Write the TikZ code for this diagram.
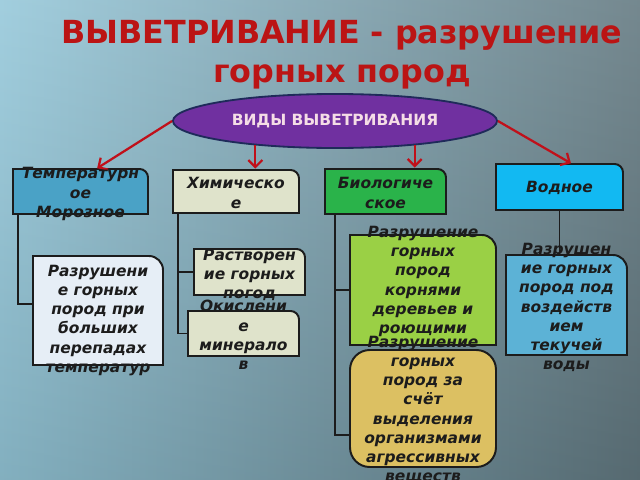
\documentclass[tikz,border=0pt]{standalone}
\usepackage{fontspec}
\setmainfont{DejaVu Sans}
\usetikzlibrary{arrows.meta,shapes.geometric,fit}

\definecolor{bgleft}{HTML}{95C8DA}
\definecolor{bgright}{HTML}{627880}
\definecolor{titlered}{HTML}{BB1414}
\definecolor{arrowred}{HTML}{C0101A}
\definecolor{kindsviolet}{HTML}{7030A0}
\definecolor{kindsedge}{HTML}{1F2A5A}
\definecolor{kindstext}{HTML}{F5DDE6}
\definecolor{boxedge}{HTML}{1C1C1C}
\definecolor{textdark}{HTML}{1C1C1C}
\definecolor{tempblue}{HTML}{4AA2C6}
\definecolor{chempale}{HTML}{DFE3CB}
\definecolor{biogreen}{HTML}{2AB34A}
\definecolor{watercyan}{HTML}{12B9F2}
\definecolor{frostwhite}{HTML}{E6EEF6}
\definecolor{rootsgreen}{HTML}{9AD045}
\definecolor{acidsgold}{HTML}{DCC062}
\definecolor{flowblue}{HTML}{5CB2D6}

\tikzset{
  boxbase/.style={inner sep=0pt, outer sep=0pt},
  boxline/.style={draw=boxedge, line width=1.4pt},
  boxtext/.style={font=\bfseries\itshape\fontsize{11}{13.7}\selectfont, text=textdark, align=center, inner sep=0pt},
  link/.style={draw=boxedge, line width=1.4pt},
  redarrow/.style={draw=arrowred, line width=1.6pt, -{Straight Barb[length=5pt,width=10pt]}, shorten >=1pt},
}

% box with one rounded corner (top right)
\newcommand{\cornerbox}[3]{%
  \filldraw[boxline, fill=#2] (#1.south west) -- (#1.north west) [rounded corners=#3] -- (#1.north east) [sharp corners] -- (#1.south east) -- cycle;}

\begin{document}
\begin{tikzpicture}[x=0.025cm, y=-0.025cm]
  \useasboundingbox (0,0) rectangle (640,480);
  \shade[left color=bgleft, right color=bgright] (0,0) rectangle (640,480);
  \shade[top color=white, bottom color=black, opacity=0.12] (0,0) rectangle (640,480);

  % title
  \node[font=\bfseries\fontsize{22.6}{28}\selectfont, text=titlered, align=center] (title) at (342,55) {ВЫВЕТРИВАНИЕ - разрушение\\горных пород};

  \node[ellipse, draw=kindsedge, line width=1.3pt, fill=kindsviolet, minimum width=8.1cm, minimum height=1.35cm, inner sep=0pt,
        font=\bfseries\fontsize{11}{13}\selectfont, text=kindstext] (kinds) at (335,121) {ВИДЫ ВЫВЕТРИВАНИЯ};

  % kinds of weathering
  \node[boxbase, fit={(13,169) (148,214)}] (temp) {};
  \node[boxbase, fit={(173,170) (299,213)}] (chem) {};
  \node[boxbase, fit={(325,169) (446,214)}] (bio) {};
  \node[boxbase, fit={(496,164) (623,210)}] (water) {};
  \cornerbox{temp}{tempblue}{6pt}
  \cornerbox{chem}{chempale}{6pt}
  \cornerbox{bio}{biogreen}{6pt}
  \cornerbox{water}{watercyan}{6pt}

  % descriptions
  \node[boxbase, fit={(33,256) (163,365)}] (frost) {};
  \node[boxbase, fit={(194,249) (305,295)}] (diss) {};
  \node[boxbase, fit={(188,311) (299,356)}] (oxid) {};
  \node[boxbase, fit={(350,235) (496,345)}] (roots) {};
  \node[boxbase, fit={(350,350) (496,467)}] (acids) {};
  \node[boxbase, fit={(506,255) (627,355)}] (flow) {};
  \cornerbox{frost}{frostwhite}{10pt}
  \cornerbox{diss}{chempale}{6pt}
  \cornerbox{oxid}{chempale}{6pt}
  \cornerbox{roots}{rootsgreen}{10pt}
  \filldraw[boxline, fill=acidsgold, rounded corners=14pt] (acids.south west) rectangle (acids.north east);
  \cornerbox{flow}{flowblue}{10pt}

  \draw[redarrow] (kinds.west) -- ([xshift=11pt]temp.north);
  \draw[redarrow] (kinds.197) -- (kinds.197 |- chem.north);
  \draw[redarrow] (kinds.-17) -- (kinds.-17 |- bio.north);
  \draw[redarrow] (kinds.east) -- ([xshift=9pt]water.north);

  \coordinate (tempspine) at ([xshift=3.5pt]temp.south west);
  \draw[link] (tempspine) |- ([yshift=4.6pt]frost.west);
  \coordinate (chemspine) at ([xshift=3.5pt]chem.south west);
  \draw[link] (chemspine) |- (oxid.west);
  \draw[link] (chemspine |- diss.west) -- (diss.west);
  \coordinate (biospine) at ([xshift=7pt]bio.south west);
  \draw[link] (biospine) |- ([yshift=-18.8pt]acids.west);
  \draw[link] (biospine |- roots.west) -- (roots.west);
  \draw[link] (water.south) -- (water.south |- flow.north);

  \node[boxtext] (temptext) at ([yshift=-1.8pt]temp.center) {Температурн\\ое\\Морозное};
  \node[boxtext] (chemtext) at ([yshift=-1pt]chem.center) {Химическо\\е};
  \node[boxtext] (biotext) at ([yshift=-1pt]bio.center) {Биологиче\\ское};
  \node[boxtext] (watertext) at ([yshift=-0.7pt]water.center) {Водное};
  \node[boxtext] (frosttext) at ([yshift=-7pt]frost.center) {Разрушени\\е горных\\пород при\\больших\\перепадах\\температур};
  \node[boxtext] (disstext) at ([yshift=-2pt]diss.center) {Растворен\\ие горных\\погод};
  \node[boxtext] (oxidtext) at ([yshift=-1pt]oxid.center) {Окислени\\е\\минерало\\в};
  \node[boxtext] (rootstext) at ([yshift=6pt]roots.center) {Разрушение\\горных\\пород\\корнями\\деревьев и\\роющими};
  \node[boxtext] (acidstext) at ([yshift=-1pt]acids.center) {Разрушение\\горных\\пород за\\счёт\\выделения\\организмами\\агрессивных\\веществ};
  \node[boxtext] (flowtext) at ([yshift=-1.8pt]flow.center) {Разрушен\\ие горных\\пород под\\воздейств\\ием\\текучей\\воды};
\end{tikzpicture}
\end{document}
